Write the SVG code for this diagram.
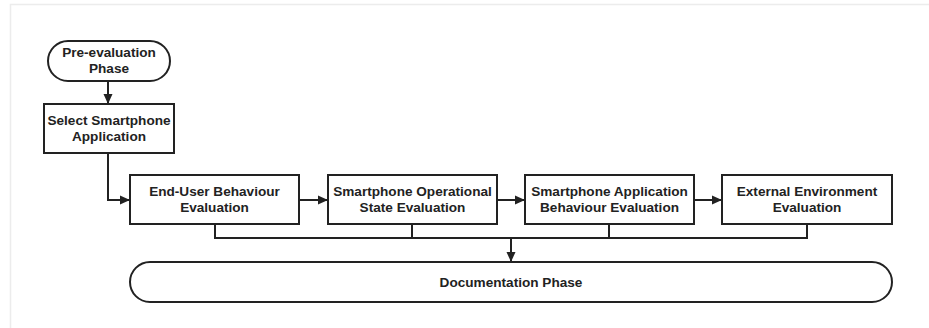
<svg xmlns="http://www.w3.org/2000/svg" width="929" height="328" viewBox="0 0 929 328">
<style>
.box{fill:#fff;stroke:#222;stroke-width:2}
.ln{fill:none;stroke:#222;stroke-width:2}
.frame{stroke:#ececec;stroke-width:1.5;fill:none}
text{font-family:"Liberation Sans",Arial,sans-serif;font-weight:bold;font-size:13.6px;fill:#222;text-anchor:middle}
</style>
<defs>
<marker id="ah" markerWidth="10" markerHeight="10" refX="9" refY="5" orient="auto" markerUnits="userSpaceOnUse">
<path d="M0,0.5 L10,5 L0,9.5 Z" fill="#222"/>
</marker>
</defs>
<rect width="929" height="328" fill="#fff"/>
<path class="frame" d="M929,4.5 H10.5 V328"/>
<g id="connectors">
<path class="ln" d="M108,81 V103" marker-end="url(#ah)"/>
<path class="ln" d="M108,153 V200 H129" marker-end="url(#ah)"/>
<path class="ln" d="M299,200 H327" marker-end="url(#ah)"/>
<path class="ln" d="M497,200 H524" marker-end="url(#ah)"/>
<path class="ln" d="M694,200 H721" marker-end="url(#ah)"/>
<path class="ln" d="M215,224 V238 H807 V224 M412,224 V238 M609,224 V238"/>
<path class="ln" d="M511,238 V261" marker-end="url(#ah)"/>
</g>
<g id="pre">
<rect class="box" x="48" y="41" width="122" height="40" rx="20"/>
<text x="109" y="57">Pre-evaluation</text>
<text x="109" y="73">Phase</text>
</g>
<g id="select">
<rect class="box" x="44" y="104" width="130" height="49"/>
<text x="109" y="125">Select Smartphone</text>
<text x="109" y="141">Application</text>
</g>
<g id="enduser">
<rect class="box" x="130" y="175" width="169" height="49"/>
<text x="214.5" y="196">End-User Behaviour</text>
<text x="214.5" y="212">Evaluation</text>
</g>
<g id="operational">
<rect class="box" x="328" y="175" width="169" height="49"/>
<text x="412.5" y="196">Smartphone Operational</text>
<text x="412.5" y="212">State Evaluation</text>
</g>
<g id="application">
<rect class="box" x="525" y="175" width="169" height="49"/>
<text x="609.5" y="196">Smartphone Application</text>
<text x="609.5" y="212">Behaviour Evaluation</text>
</g>
<g id="external">
<rect class="box" x="722" y="175" width="170" height="49"/>
<text x="807" y="196">External Environment</text>
<text x="807" y="212">Evaluation</text>
</g>
<g id="documentation">
<rect class="box" x="130" y="262" width="762" height="40" rx="20"/>
<text x="511" y="287">Documentation Phase</text>
</g>
</svg>
